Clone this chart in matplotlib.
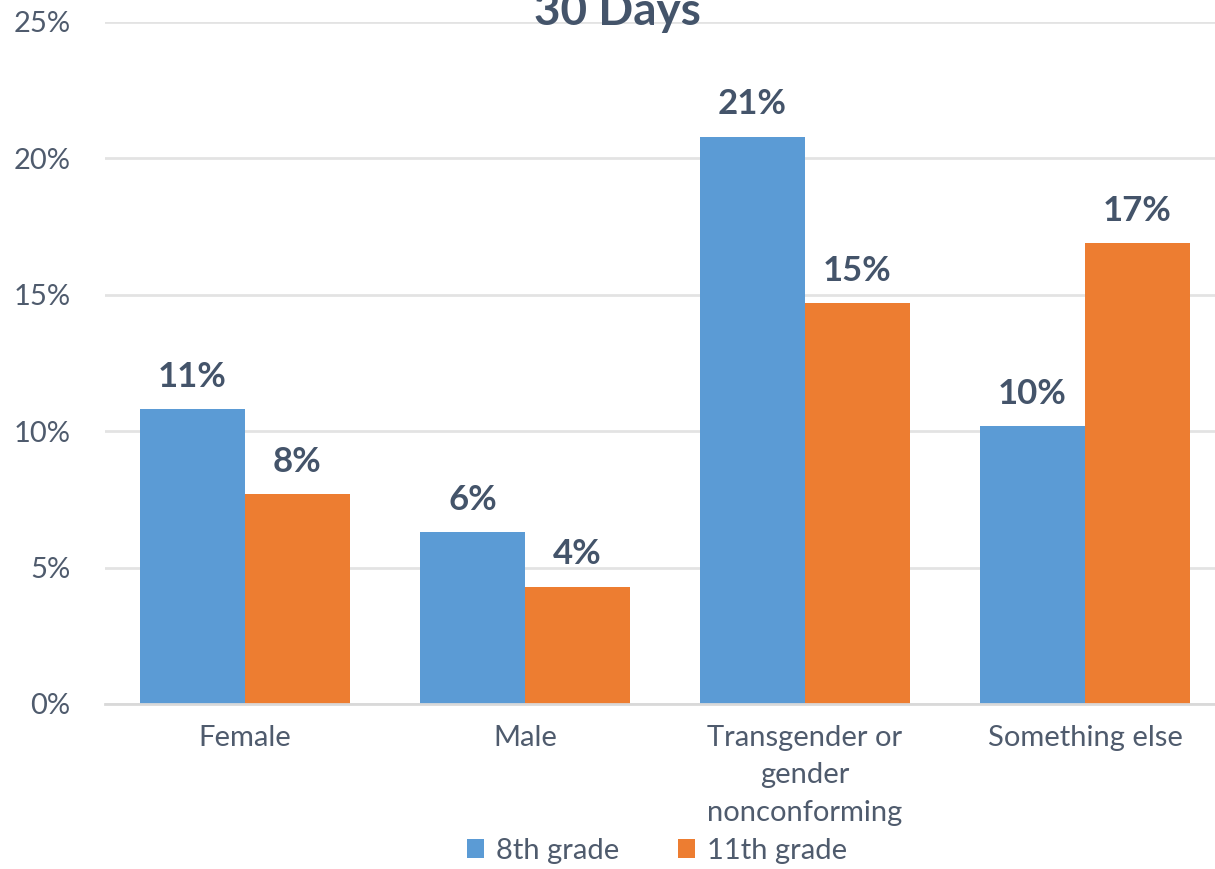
import matplotlib
matplotlib.use("Agg")
import matplotlib.pyplot as plt
import numpy as np
from matplotlib.ticker import FuncFormatter

categories = ["Female", "Male", "Transgender or\ngender\nnonconforming", "Something else"]
series_names = ["8th grade", "11th grade"]
grade8 = [10.8, 6.3, 20.8, 10.2]
grade11 = [7.7, 4.3, 14.7, 16.9]
labels8 = ["11%", "6%", "21%", "10%"]
labels11 = ["8%", "4%", "15%", "17%"]
yticks = [0, 5, 10, 15, 20, 25]

plt.rcParams['font.family'] = ['Lato', 'DejaVu Sans']

blue = "#5B9BD5"
orange = "#ED7D31"
txt = "#44546A"
tick_col = "#4F5B6D"

fig = plt.figure(figsize=(12.15, 8.69), dpi=100)
ax = fig.add_axes([105/1215, 1-704/869, 1120/1215, 682/869])

x = np.arange(len(categories))
w = 0.375
b1 = ax.bar(x - w/2, grade8, w, color=blue, label=series_names[0], zorder=3)
b2 = ax.bar(x + w/2, grade11, w, color=orange, label=series_names[1], zorder=3)

for bars, labs in ((b1, labels8), (b2, labels11)):
    for rect, lab in zip(bars, labs):
        ax.annotate(lab, (rect.get_x() + rect.get_width()/2, rect.get_height()),
                    xytext=(0, 16), textcoords="offset points", ha="center", va="baseline",
                    fontsize=25, fontweight="bold", color=txt)

ax.set_xlim(-0.5, 3.5)
ax.set_ylim(0, 25)
ax.set_yticks(yticks)
ax.yaxis.set_major_formatter(FuncFormatter(lambda v, p: f"{int(v)}%"))
ax.set_xticks(x)
ax.set_xticklabels(categories, linespacing=1.55)
ax.tick_params(axis="y", length=0, pad=25, labelsize=21, labelcolor=tick_col)
ax.tick_params(axis="x", length=0, pad=15, labelsize=21, labelcolor=tick_col)
ax.grid(axis="y", color="#E3E3E3", linewidth=2, zorder=0)
for s in ["top", "right", "left"]:
    ax.spines[s].set_visible(False)
ax.spines["bottom"].set_color("#D9D9D9")
ax.spines["bottom"].set_linewidth(2)
ax.spines["bottom"].set_zorder(4)

fig.text(0.508, 1-25/869, "30 Days", ha="center", va="baseline",
         fontsize=33, fontweight="bold", color=txt)

fig.legend(loc="center", bbox_to_anchor=(657/1215, 1-851/869), ncol=2, frameon=False,
           fontsize=21, labelcolor=tick_col, handlelength=0.6, handleheight=0.6,
           handletextpad=0.4, columnspacing=2.0)

fig.savefig("out.png", dpi=100)
